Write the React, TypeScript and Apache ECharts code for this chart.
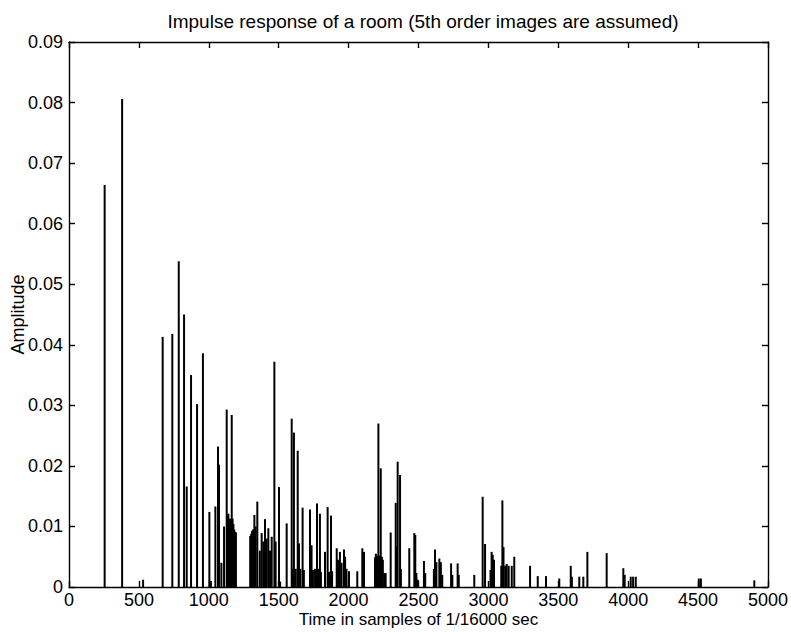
import React, { useEffect, useRef } from "react";
import * as echarts from "echarts";

const titleText = "Impulse response of a room (5th order images are assumed)";
const xAxisName = "Time in samples of 1/16000 sec";
const yAxisName = "Amplitude";

const xMin = 0;
const xMax = 5000;
const xStep = 500;
const yMin = 0;
const yMax = 0.09;
const yStep = 0.01;

// Stem positions (samples) and amplitudes
const stemTimes = [
  255, 380, 530, 670, 739, 785, 823, 842, 873, 916, 958, 1004, 1015, 1047, 1066, 1073, 1090, 1109,
  1128, 1134, 1140, 1146, 1152, 1158, 1164, 1170, 1176, 1182, 1188, 1194,
  1296, 1303, 1310, 1318, 1326, 1335, 1347, 1365, 1378, 1390, 1402, 1414, 1426, 1438, 1450, 1469, 1478,
  1502, 1510, 1557, 1593, 1600, 1609, 1615, 1622, 1636, 1645, 1655, 1671, 1680, 1724, 1735, 1745, 1760,
  1774, 1781, 1795, 1802, 1831, 1850, 1860, 1874, 1882, 1915, 1925, 1938, 1950, 1967, 1975, 1985, 2003,
  2062, 2098, 2110, 2189, 2195, 2201, 2207, 2213, 2221, 2230, 2238, 2245, 2255, 2265, 2301, 2337, 2345,
  2351, 2368, 2374, 2434, 2470, 2477, 2485, 2495, 2539, 2548, 2610, 2618, 2628, 2649, 2660, 2670, 2733,
  2742, 2780, 2788, 2899, 2959, 2976, 3015, 3023, 3031, 3040, 3092, 3100, 3108, 3120, 3131, 3145, 3167,
  3185, 3298, 3353, 3412, 3507, 3589, 3597, 3650, 3679, 3708, 3846, 3965, 3975, 4018, 4035, 4054, 4505,
  4520, 4902,
];
const stemAmps = [
  0.0664, 0.0806, 0.0012, 0.0413, 0.0418, 0.0538, 0.045, 0.0166, 0.035, 0.0302, 0.0386, 0.0124, 0.001, 0.0133, 0.0232, 0.0202, 0.004, 0.01,
  0.0293, 0.0118, 0.0121, 0.011, 0.0113, 0.01, 0.0284, 0.0113, 0.0104, 0.0095, 0.0091, 0.009,
  0.0084, 0.0088, 0.0093, 0.0095, 0.0119, 0.01, 0.0141, 0.006, 0.0089, 0.0075, 0.0112, 0.008, 0.0097, 0.006, 0.0083, 0.0372, 0.0075,
  0.0165, 0.0009, 0.0105, 0.0278, 0.003, 0.0255, 0.0024, 0.003, 0.0225, 0.0072, 0.003, 0.0131, 0.0028, 0.0128, 0.0069, 0.0028, 0.003,
  0.0138, 0.003, 0.0121, 0.0025, 0.0058, 0.0132, 0.0025, 0.0118, 0.0026, 0.0064, 0.0045, 0.0058, 0.004, 0.0062, 0.005, 0.003, 0.0026,
  0.0026, 0.0064, 0.0058, 0.0049, 0.0055, 0.0052, 0.005, 0.027, 0.0052, 0.0196, 0.005, 0.0045, 0.0023, 0.0023, 0.009, 0.0139, 0.0067,
  0.0207, 0.0185, 0.003, 0.0064, 0.0089, 0.0086, 0.0023, 0.0012, 0.0043, 0.0023, 0.003, 0.0062, 0.0041, 0.0047, 0.0041, 0.002, 0.0039,
  0.002, 0.0039, 0.002, 0.002, 0.0149, 0.0071, 0.0028, 0.0058, 0.0053, 0.0045, 0.0035, 0.0143, 0.0066, 0.0035, 0.0038, 0.0035, 0.0035,
  0.005, 0.0035, 0.0018, 0.0018, 0.0014, 0.0035, 0.0017, 0.0017, 0.0017, 0.0058, 0.0056, 0.0031, 0.002, 0.0017, 0.0017, 0.0017, 0.0014,
  0.0014, 0.0011,
];

const FONT = "'Liberation Sans', Arial, Helvetica, sans-serif";

export default function App() {
  const ref = useRef<HTMLDivElement | null>(null);

  useEffect(() => {
    if (!ref.current) return;
    const chart = echarts.init(ref.current, undefined, { renderer: "svg" });
    const data = stemTimes.map((t, i) => [t, stemAmps[i]]);

    const axisCommon = {
      type: "value" as const,
      splitLine: { show: false },
      axisLine: { show: true, onZero: false, lineStyle: { color: "#000", width: 1.4 } },
      axisTick: { show: true, inside: true, length: 6, lineStyle: { color: "#000", width: 1.4 } },
    };

    chart.setOption({
      animation: false,
      backgroundColor: "#fff",
      textStyle: { fontFamily: FONT },
      title: {
        text: titleText,
        left: 418,
        top: 7,
        textAlign: "center",
        textStyle: { fontFamily: FONT, fontSize: 19, fontWeight: "normal", color: "#000" },
      },
      grid: {
        left: 69,
        right: 23,
        top: 42,
        bottom: 45,
        containLabel: false,
        outerBoundsMode: "none",
      },
      xAxis: [
        {
          ...axisCommon,
          position: "bottom",
          min: xMin,
          max: xMax,
          interval: xStep,
          axisLabel: {
            color: "#000",
            fontSize: 18,
            fontFamily: FONT,
            margin: 4,
            formatter: (v: number) => String(v),
          },
          name: xAxisName,
          nameLocation: "middle",
          nameGap: 24,
          nameMoveOverlap: false,
          nameTextStyle: { color: "#000", fontSize: 17, fontFamily: FONT },
        },
        {
          ...axisCommon,
          position: "top",
          min: xMin,
          max: xMax,
          interval: xStep,
          axisLabel: { show: false },
        },
      ],
      yAxis: [
        {
          ...axisCommon,
          position: "left",
          min: yMin,
          max: yMax,
          interval: yStep,
          axisLabel: {
            color: "#000",
            fontSize: 18,
            fontFamily: FONT,
            margin: 6,
            formatter: (v: number) => (v === 0 ? "0" : v.toFixed(2)),
          },
          name: yAxisName,
          nameLocation: "middle",
          nameGap: 42,
          nameMoveOverlap: false,
          nameTextStyle: { color: "#000", fontSize: 18, fontFamily: FONT },
        },
        {
          ...axisCommon,
          position: "right",
          min: yMin,
          max: yMax,
          interval: yStep,
          axisLabel: { show: false },
        },
      ],
      series: [
        {
          type: "custom",
          xAxisIndex: 0,
          yAxisIndex: 0,
          data,
          encode: { x: 0, y: 1 },
          clip: true,
          renderItem: (params: any, api: any) => {
            const x = api.value(0);
            const y = api.value(1);
            const p0 = api.coord([x, 0]);
            const p1 = api.coord([x, y]);
            return {
              type: "line",
              shape: { x1: p0[0], y1: p0[1], x2: p1[0], y2: p1[1] },
              style: { stroke: "#000", lineWidth: 2 },
            };
          },
        },
        { type: "line", xAxisIndex: 1, yAxisIndex: 1, data: [], silent: true },
      ],
    });

    return () => chart.dispose();
  }, []);

  return (
    <div
      ref={ref}
      style={{ position: "fixed", left: 0, top: 0, width: 791, height: 632, background: "#fff" }}
    />
  );
}
